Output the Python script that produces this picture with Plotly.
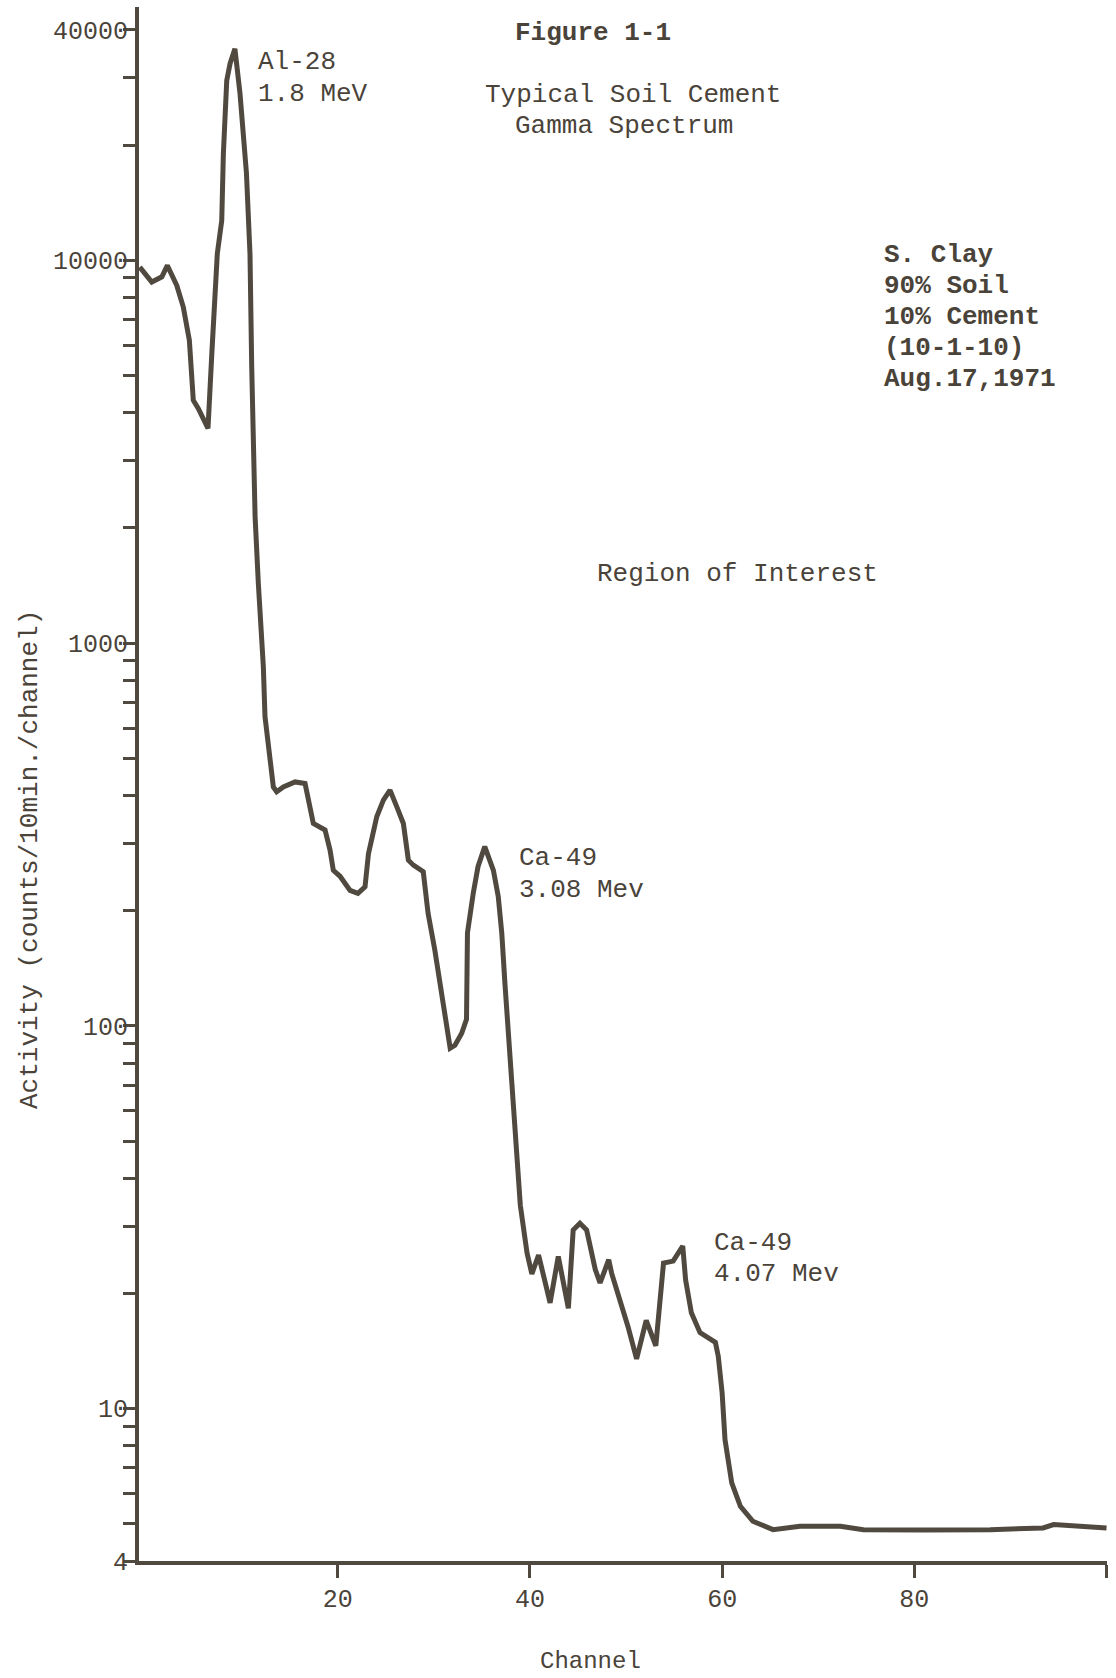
import plotly.graph_objects as go

# ---- data ----
channel = [-0.6, 0.65, 1.7, 2.27, 3.25, 3.93, 4.56, 4.8, 4.97, 5.5, 6.3, 6.5, 6.9, 7.47, 7.93,
           8.1, 8.45, 8.8, 9.3, 9.83, 10.5, 10.87, 11.05, 11.22, 11.4, 11.74, 12.26, 12.43, 13.3,
           13.65, 14.34, 15.56, 16.6, 17.46, 18.68, 19.2, 19.54, 20.24, 21.28, 22.1, 22.84, 23.2,
           24.06, 24.75, 25.44, 26.14, 26.83, 27.35, 27.87, 28.9, 29.4, 30.1, 30.8, 31.3, 31.7,
           32.2, 32.9, 33.4, 33.5, 34.1, 34.6, 35.3, 36.2, 36.7, 37.07, 37.4, 37.9, 38.6, 39.0,
           39.7, 40.2, 40.9, 42.1, 42.95, 44.0, 44.5, 45.2, 45.9, 46.8, 47.3, 48.2, 48.5, 49.4,
           50.2, 51.1, 52.1, 53.1, 53.9, 54.9, 55.9, 56.2, 56.8, 57.7, 59.3, 59.6, 60.0, 60.3,
           61.0, 61.9, 63.2, 65.3, 68.1, 72.3, 74.7, 80.9, 87.9, 93.4, 94.5, 100.0]
activity = [9600, 8780, 9060, 9700, 8600, 7550, 6180, 5070, 4310, 4100, 3670, 3640, 5720, 10430, 12700,
            19000, 29500, 32700, 35700, 27300, 16900, 10400, 5260, 3190, 2140, 1430, 867, 643, 421,
            409, 421, 434, 430, 338, 325, 288, 255, 246, 226, 222, 231, 282,
            352, 389, 413, 374, 338, 271, 263, 253, 197, 158, 122, 102, 87.5,
            89, 95.7, 104, 175, 222, 261, 294, 255, 218, 175, 129, 85, 46, 34,
            25.5, 22.5, 25.2, 18.9, 25.0, 18.3, 29.3, 30.5, 29.3, 23.1, 21.3, 24.5, 22.6, 19.3,
            16.4, 13.5, 17.0, 14.6, 24.0, 24.3, 26.6, 21.7, 17.8, 15.8, 14.9, 13.7, 11.0, 8.3,
            6.4, 5.56, 5.08, 4.83, 4.93, 4.93, 4.83, 4.82, 4.83, 4.88, 4.98, 4.88]

x_tickvals = [20, 40, 60, 80, 100]
x_ticktext = ["20", "40", "60", "80", ""]

y_tickvals = [4, 5, 6, 7, 8, 9, 10, 20, 30, 40, 50, 60, 70, 80, 90,
              100, 200, 300, 400, 500, 600, 700, 800, 900,
              1000, 2000, 3000, 4000, 5000, 6000, 7000, 8000, 9000,
              10000, 20000, 30000, 40000]
y_labelled = {4: "4", 10: "10", 100: "100", 1000: "1000", 10000: "10000", 40000: "40000"}
y_ticktext = [y_labelled.get(v, "") for v in y_tickvals]

title_lines = ["Figure 1-1", "Typical Soil Cement", "Gamma Spectrum"]
sample_lines = ["S. Clay", "90% Soil", "10% Cement", "(10-1-10)", "Aug.17,1971"]
peak_labels = [("Al-28", "1.8 MeV"), ("Ca-49", "3.08 Mev"), ("Ca-49", "4.07 Mev")]

# ---- style ----
INK = "#50493f"
TXT = "#4a433a"
FONT = "Liberation Mono, DejaVu Sans Mono, monospace"
W, H = 1116, 1678
L, R, T, B = 139, 1107, 7, 1561


def px(x):
    return (x - L) / (R - L)


def py(y):
    return (B - y) / (B - T)


fig = go.Figure()
fig.add_trace(go.Scatter(x=channel, y=activity, mode="lines",
                         line=dict(color=INK, width=5), hoverinfo="skip"))

ann = []


def text(s, x, y, size=26, anchor="left", bold=False, angle=0):
    ann.append(dict(text=f"<b>{s}</b>" if bold else s, x=px(x), y=py(y),
                    xref="paper", yref="paper", xanchor=anchor, yanchor="middle",
                    showarrow=False, textangle=angle,
                    font=dict(family=FONT, size=size, color=TXT)))


# title block
text(title_lines[0], 513, 33, bold=True)
text(title_lines[1], 483, 95)
text(title_lines[2], 513, 126)

# sample description
for i, s in enumerate(sample_lines):
    text(s, 882, 255 + i * 31, bold=True)

# peak labels
text(peak_labels[0][0], 256, 62)
text(peak_labels[0][1], 256, 94)
text(peak_labels[1][0], 517, 858)
text(peak_labels[1][1], 517, 890)
text(peak_labels[2][0], 712, 1243)
text(peak_labels[2][1], 712, 1274)

text("Region of Interest", 595, 574)

# axis titles
text("Channel", 590, 1662, size=24, anchor="center")
text("Activity (counts/10min./channel)", 30, 860, size=26, anchor="center", angle=-90)

fig.update_layout(
    width=W, height=H,
    margin=dict(l=L, r=W - R, t=T, b=H - B, pad=0),
    paper_bgcolor="white", plot_bgcolor="white",
    showlegend=False,
    annotations=ann,
    xaxis=dict(range=[-0.68, 100.05], showgrid=False, zeroline=False,
               showline=True, linecolor=INK, linewidth=4,
               ticks="outside", ticklen=13, tickwidth=3, tickcolor=INK,
               tickvals=x_tickvals, ticktext=x_ticktext,
               tickfont=dict(family=FONT, size=25, color=TXT),
               ticklabelstandoff=-1),
    yaxis=dict(type="log", range=[0.60206, 4.662], showgrid=False, zeroline=False,
               showline=True, linecolor=INK, linewidth=4,
               ticks="outside", ticklen=12, tickwidth=3, tickcolor=INK,
               tickvals=y_tickvals, ticktext=y_ticktext,
               tickfont=dict(family=FONT, size=25, color=TXT),
               ticklabelstandoff=-10),
)

fig.write_html("out.html",
               config={"displayModeBar": False},
               post_script="document.body.style.margin='0';document.body.style.overflow='hidden';")
